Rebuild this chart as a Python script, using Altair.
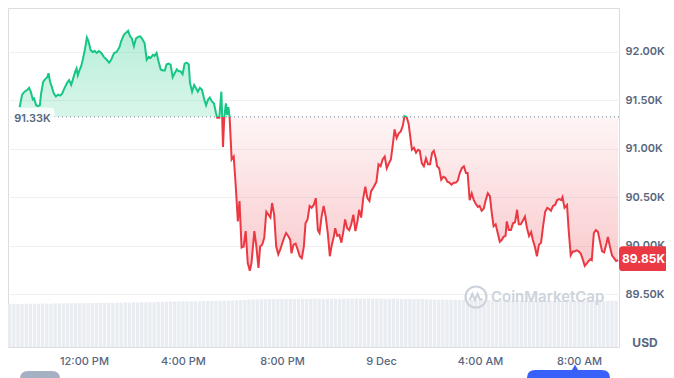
import altair as alt
import pandas as pd

# ---------------- data ----------------
minutes_after_noon = [
    -156, -150, -144, -137, -133, -129, -124, -121, -116, -112,
    -107, -104, -99, -94, -89, -86, -82, -78, -73, -68,
    -63, -58, -53, -47, -40, -36, -31, -26, -21, -18,
    -15, -11, -7, -3, 2, 7, 11, 16, 21, 26,
    31, 36, 42, 48, 55, 61, 66, 73, 79, 86,
    90, 97, 102, 107, 112, 116, 121, 126, 133, 137,
    142, 147, 152, 157, 162, 167, 171, 176, 181, 186,
    191, 196, 200, 205, 210, 215, 220, 225, 230, 234,
    239, 244, 249, 254, 257, 262, 267, 271, 276, 281,
    286, 291, 296, 301, 305, 310, 315, 320, 323, 328,
    333, 335, 337, 340, 344, 347, 350, 353, 358, 363,
    368, 373, 377, 382, 387, 392, 397, 402, 406, 413,
    418, 423, 427, 432, 437, 442, 447, 452, 456, 461,
    466, 471, 476, 481, 486, 490, 495, 500, 503, 508,
    513, 518, 523, 528, 533, 537, 542, 547, 552, 557,
    562, 567, 571, 576, 581, 586, 591, 596, 600, 606,
    609, 614, 619, 624, 629, 633, 638, 643, 648, 653,
    658, 663, 667, 672, 677, 682, 687, 692, 696, 703,
    709, 714, 719, 724, 729, 734, 739, 744, 748, 753,
    758, 763, 768, 773, 777, 782, 787, 792, 795, 800,
    805, 810, 814, 819, 824, 829, 834, 839, 844, 848,
    853, 856, 861, 866, 871, 876, 881, 886, 891, 896,
    901, 906, 911, 916, 921, 926, 930, 935, 940, 945,
    950, 955, 959, 964, 969, 974, 979, 984, 989, 993,
    998, 1003, 1008, 1013, 1017, 1022, 1025, 1030, 1035, 1040,
    1045, 1050, 1054, 1059, 1064, 1069, 1074, 1079, 1084, 1088,
    1093, 1098, 1103, 1108, 1113, 1118, 1123, 1127, 1132, 1137,
    1142, 1147, 1152, 1157, 1160, 1165, 1171, 1175, 1180, 1185,
    1189, 1194, 1199, 1204, 1209, 1214, 1218, 1223, 1228, 1231,
    1236, 1241, 1246, 1251, 1256, 1261, 1266, 1270, 1275, 1280, 1285, 1290, 1295,
]

price_k = [
    91.43, 91.56, 91.59, 91.61, 91.63, 91.59, 91.51, 91.52, 91.45, 91.44,
    91.45, 91.57, 91.69, 91.72, 91.74, 91.78, 91.69, 91.64, 91.57, 91.54,
    91.56, 91.55, 91.57, 91.63, 91.69, 91.71, 91.66, 91.73, 91.80, 91.83,
    91.76, 91.81, 91.85, 91.92, 92.02, 92.15, 92.11, 92.02, 92.00, 92.01,
    91.99, 92.01, 91.99, 91.95, 91.92, 91.89, 91.92, 91.99, 92.00, 92.05,
    92.11, 92.18, 92.20, 92.22, 92.16, 92.14, 92.06, 92.14, 92.16, 92.16,
    92.13, 92.09, 91.92, 91.95, 91.94, 91.97, 91.96, 91.99, 91.90, 91.82,
    91.81, 91.81, 91.87, 91.88, 91.87, 91.74, 91.78, 91.82, 91.80, 91.80,
    91.77, 91.88, 91.89, 91.87, 91.68, 91.59, 91.66, 91.63, 91.59, 91.63,
    91.61, 91.52, 91.45, 91.51, 91.53, 91.49, 91.47, 91.37, 91.32, 91.32,
    91.59, 91.33, 91.02, 91.32, 91.47, 91.35, 91.43, 91.33, 90.89, 90.92,
    90.61, 90.25, 90.46, 89.98, 89.99, 90.15, 89.82, 89.74, 89.82, 90.15,
    89.99, 89.77, 89.99, 90.01, 90.08, 90.35, 90.32, 90.29, 90.44, 90.32,
    89.99, 89.91, 89.96, 90.03, 90.09, 90.13, 90.10, 90.06, 89.92, 90.01,
    90.02, 89.96, 89.89, 89.87, 89.99, 90.23, 90.27, 90.41, 90.39, 90.42,
    90.49, 90.16, 90.13, 90.30, 90.41, 90.30, 90.13, 89.89, 89.99, 90.10,
    90.18, 90.10, 90.11, 90.03, 90.15, 90.27, 90.18, 90.16, 90.22, 90.32,
    90.15, 90.25, 90.37, 90.29, 90.49, 90.61, 90.49, 90.46, 90.56, 90.61,
    90.66, 90.84, 90.82, 90.89, 90.92, 90.80, 90.85, 90.89, 91.02, 91.20,
    91.11, 91.16, 91.18, 91.24, 91.34, 91.33, 91.26, 91.09, 90.99, 91.01,
    90.96, 90.99, 90.98, 90.85, 90.82, 90.90, 90.84, 90.84, 90.96, 90.98,
    90.90, 90.82, 90.80, 90.68, 90.71, 90.70, 90.66, 90.65, 90.63, 90.65,
    90.65, 90.67, 90.75, 90.80, 90.82, 90.75, 90.75, 90.47, 90.54, 90.47,
    90.43, 90.40, 90.41, 90.36, 90.38, 90.47, 90.54, 90.51, 90.32, 90.20,
    90.22, 90.13, 90.04, 90.06, 90.09, 90.10, 90.25, 90.16, 90.16, 90.23,
    90.24, 90.37, 90.22, 90.22, 90.26, 90.30, 90.18, 90.10, 90.14, 90.06,
    89.99, 89.89, 90.01, 90.03, 90.20, 90.35, 90.39, 90.38, 90.36, 90.41,
    90.42, 90.47, 90.48, 90.47, 90.50, 90.39, 90.42, 90.16, 89.90, 89.94,
    89.94, 89.95, 89.94, 89.92, 89.86, 89.79, 89.81, 89.84, 89.86, 89.85,
    90.13, 90.16, 90.14, 90.04, 89.94, 89.93, 90.01, 90.09, 89.99, 89.90, 89.87, 89.84, 89.85,
]

# 24h volume (billions USD), one bar per 10 minutes from 9:00 AM
volume_b = [
    38.1, 38.3, 38.2, 38.0, 38.2, 38.4, 38.3, 38.2, 38.5, 38.4, 38.3, 38.6,
    38.5, 38.7, 38.6, 38.8, 38.7, 38.9, 38.8, 38.7, 39.0, 38.9, 39.1, 39.0,
    39.2, 39.1, 39.3, 39.2, 39.4, 39.3, 39.5, 39.4, 39.6, 39.5, 39.7, 39.6,
    39.8, 40.0, 40.1, 40.3, 40.2, 40.4, 40.3, 40.5, 40.4, 40.6, 40.5, 40.7,
    40.6, 40.8, 40.7, 40.9, 41.0, 40.9, 41.1, 41.3, 41.5, 41.7, 41.9, 42.1,
    42.2, 42.4, 42.3, 42.5, 42.4, 42.6, 42.5, 42.4, 42.6, 42.5, 42.7, 42.6,
    42.5, 42.7, 42.6, 42.8, 42.7, 42.6, 42.8, 42.7, 42.6, 42.8, 42.7, 42.6,
    42.8, 42.7, 42.9, 42.8, 42.7, 42.9, 42.8, 42.7, 42.6, 42.8, 42.7, 42.6,
    42.5, 42.6, 42.4, 42.5, 42.3, 42.2, 42.1, 42.0, 41.9, 42.0, 41.8, 41.9,
    41.8, 41.7, 41.8, 41.6, 41.7, 41.5, 41.6, 41.4, 41.5, 41.3, 41.4, 41.2,
    41.3, 41.1, 41.2, 41.0, 41.1, 40.9, 41.0, 40.8, 40.9, 40.7, 40.8, 40.9,
    40.8, 40.7, 40.9, 40.8, 40.6, 40.7, 40.8, 40.6, 40.7, 40.9, 40.8, 40.7,
    40.8, 40.9, 41.0, 40.9,
]

open_price_k = 91.33
y_tick_values = [89.5, 90.0, 90.5, 91.0, 91.5, 92.0]
# (day, hour) of each x tick
x_tick_times = [(8, 12), (8, 16), (8, 20), (9, 0), (9, 4), (9, 8)]
watermark = "CoinMarketCap"
currency = "USD"

# ---------------- tables ----------------
NOON = pd.Timestamp("2025-12-08 12:00")
df = pd.DataFrame({
    "t": NOON + pd.to_timedelta(minutes_after_noon, unit="m"),
    "price": price_k,
})
vol_df = pd.DataFrame({
    "t": pd.date_range("2025-12-08 09:00", periods=len(volume_b), freq="10min"),
    "vol": volume_b,
})
one = pd.DataFrame({"k": [0]})

last_price = price_k[-1]
pmax, pmin = max(price_k), min(price_k)
frac = (pmax - open_price_k) / (pmax - pmin)

GREEN = "#16c784"
RED = "#ea3943"
GRAY = "#58667e"
FONT = "Inter"

W, H = 611, 339

x_scale = alt.Scale(domain=[
    alt.DateTime(year=2025, month=12, date=8, hours=8, minutes=55, seconds=48),
    alt.DateTime(year=2025, month=12, date=9, hours=9, minutes=37),
], padding=0, nice=False)
y_scale = alt.Scale(domain=[88.9525, 92.4545], nice=False, zero=False, padding=0)
v_scale = alt.Scale(domain=[0, 300], nice=False, padding=0)

x_axis = alt.Axis(
    values=[alt.DateTime(year=2025, month=12, date=d, hours=h) for d, h in x_tick_times],
    labelExpr="hours(datum.value) === 0 ? timeFormat(datum.value, '%-d %b') : timeFormat(datum.value, '%-I:%M %p')",
    grid=False, domain=False, ticks=False, labelPadding=8,
    labelFont=FONT, labelFontSize=11, labelFontWeight=500, labelColor=GRAY,
    title=None,
)
y_axis = alt.Axis(
    orient="right", values=y_tick_values,
    labelExpr="format(datum.value, '.2f') + 'K'",
    grid=True, gridColor="#eff2f5", gridWidth=1,
    domain=False, ticks=False, labelPadding=6,
    labelFont=FONT, labelFontSize=11, labelFontWeight=600, labelColor=GRAY,
    title=None, zindex=0,
)

X = alt.X("t:T", scale=x_scale, title=None)

# ---------------- layers ----------------
vol = alt.Chart(vol_df).mark_bar(width=3.4, color="#e9edf2").encode(
    x=alt.X("t:T", scale=x_scale, axis=x_axis),
    y=alt.Y("vol:Q", scale=v_scale, axis=None),
)

fill_grad = {
    "gradient": "linear", "x1": 0, "y1": 0, "x2": 0, "y2": 1,
    "stops": [
        {"offset": 0, "color": "rgba(22,199,132,0.30)"},
        {"offset": frac, "color": "rgba(22,199,132,0.17)"},
        {"offset": frac, "color": "rgba(234,57,67,0.05)"},
        {"offset": 1, "color": "rgba(234,57,67,0.27)"},
    ],
}
line_grad = {
    "gradient": "linear", "x1": 0, "y1": 0, "x2": 0, "y2": 1,
    "stops": [
        {"offset": 0, "color": GREEN},
        {"offset": frac, "color": GREEN},
        {"offset": frac, "color": RED},
        {"offset": 1, "color": RED},
    ],
}

area = alt.Chart(df).mark_area(color=fill_grad).encode(
    x=X,
    y=alt.Y("price:Q", scale=y_scale, axis=y_axis),
    y2=alt.datum(open_price_k),
)
base_rule = alt.Chart(one).mark_rule(color="#8c96a5", strokeDash=[1, 3], strokeWidth=1.2).encode(
    y=alt.datum(open_price_k),
)
line = alt.Chart(df).mark_line(color=line_grad, strokeWidth=2).encode(
    x=X,
    y=alt.Y("price:Q", scale=y_scale, title=None),
)

left_box_path = ("M-0.82,-0.4 L0.82,-0.4 Q1,-0.4 1,-0.22 L1,0.22 Q1,0.4 0.82,0.4 "
                 "L-0.82,0.4 Q-1,0.4 -1,0.22 L-1,-0.22 Q-1,-0.4 -0.82,-0.4 Z")
left_box = alt.Chart(one).mark_point(
    shape=left_box_path, size=45 * 45, filled=True, color="white", opacity=0.78, strokeWidth=0,
).encode(x=alt.value(24), y=alt.datum(open_price_k))
left_text = alt.Chart(one).mark_text(
    text=f"{open_price_k:.2f}K", font=FONT, fontSize=11, fontWeight=600, color=GRAY,
    align="center", baseline="middle", dy=2,
).encode(x=alt.value(24.5), y=alt.datum(open_price_k))

end_box_path = ("M-0.84,-0.51 L0.84,-0.51 Q1,-0.51 1,-0.35 L1,0.35 Q1,0.51 0.84,0.51 "
                "L-0.84,0.51 Q-1,0.51 -1,0.35 L-1,-0.35 Q-1,-0.51 -0.84,-0.51 Z")
end_box = alt.Chart(one).mark_point(
    shape=end_box_path, size=49 * 49, filled=True, color=RED, opacity=1, strokeWidth=0, yOffset=-1.5,
).encode(x=alt.value(635.5), y=alt.datum(last_price))
end_text = alt.Chart(one).mark_text(
    text=f"{last_price:.2f}K", font=FONT, fontSize=12, fontWeight=700, color="white",
    align="center", baseline="middle", dy=-1.5,
).encode(x=alt.value(635.5), y=alt.datum(last_price))

price_layer = alt.layer(area, base_rule, line, left_box, left_text, end_box, end_text)

# decorations (pixel-placed)
logo_ring = alt.Chart(one).mark_point(
    shape="circle", size=440, filled=False, color="#cdd3dc", strokeWidth=2.2, opacity=1,
).encode(x=alt.value(468), y=alt.value(289))
logo_wave = alt.Chart(one).mark_point(
    shape="M-0.6,0.3 L-0.35,-0.3 L-0.1,0.3 L0.15,-0.3 L0.35,0.2 Q0.45,0.35 0.6,0.15",
    size=440, filled=False, color="#cdd3dc", strokeWidth=2, opacity=1,
).encode(x=alt.value(468), y=alt.value(289))
wm_text = alt.Chart(one).mark_text(
    text=watermark, font=FONT, fontSize=15, fontWeight=600, color="#cdd3dc",
    align="left", baseline="middle",
).encode(x=alt.value(483), y=alt.value(289))
usd = alt.Chart(one).mark_text(
    text=currency, font=FONT, fontSize=12, fontWeight=700, color=GRAY,
    align="center", baseline="middle",
).encode(x=alt.value(637), y=alt.value(335))

# partially visible range buttons below the chart
btn_gray = alt.Chart(one).mark_point(
    shape="M-0.6,-0.6 L0.6,-0.6 Q1,-0.6 1,-0.2 L1,0.6 L-1,0.6 L-1,-0.2 Q-1,-0.6 -0.6,-0.6 Z",
    size=40 * 40, filled=True, color="#a6b0c3", opacity=1, strokeWidth=0,
).encode(x=alt.value(32), y=alt.value(375))
btn_blue = alt.Chart(one).mark_point(
    shape="M-0.8,-0.29 L0.8,-0.29 Q1,-0.29 1,-0.1 L1,0.29 L-1,0.29 L-1,-0.1 Q-1,-0.29 -0.8,-0.29 Z",
    size=83 * 83, filled=True, color="#3861fb", opacity=1, strokeWidth=0,
).encode(x=alt.value(560.5), y=alt.value(374))
pointer = alt.Chart(one).mark_point(
    shape="triangle-up", size=45, filled=True, color="#3861fb", opacity=1, strokeWidth=0,
).encode(x=alt.value(567), y=alt.value(359.5))

chart = alt.layer(
    vol, price_layer, logo_ring, logo_wave, wm_text, usd, btn_gray, btn_blue, pointer,
).resolve_scale(y="independent").properties(
    width=W, height=H,
    autosize="none",
    padding={"left": 0, "top": 0, "right": 47, "bottom": 31},
).configure_view(stroke="#e6e9ee").configure(font=FONT)

chart.save("out.html", embed_options={"renderer": "svg", "actions": False})
